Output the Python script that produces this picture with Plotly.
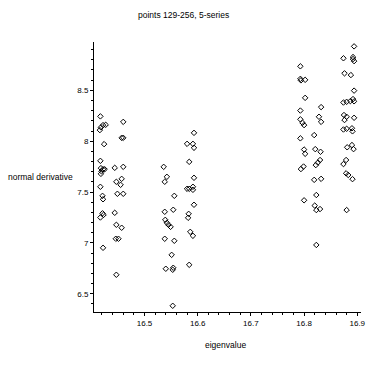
import plotly.graph_objects as go

# eigenvalue (x) and normal derivative (y)
eigenvalue = [
    # column near 16.42
    16.417, 16.422, 16.427, 16.418, 16.416, 16.424, 16.417, 16.418, 16.422, 16.425,
    16.419, 16.418, 16.417, 16.421, 16.422, 16.421, 16.423, 16.417, 16.422,
    # column near 16.45
    16.460, 16.457, 16.460, 16.444, 16.460, 16.447, 16.457, 16.455, 16.449, 16.460,
    16.444, 16.447, 16.457, 16.446, 16.451, 16.447,
    # column near 16.545
    16.536, 16.542, 16.538, 16.556, 16.538, 16.554, 16.539, 16.542, 16.545, 16.549,
    16.538, 16.556, 16.551, 16.540, 16.554, 16.553, 16.553,
    # column near 16.59
    16.593, 16.580, 16.591, 16.593, 16.584, 16.593, 16.580, 16.584, 16.591, 16.591,
    16.593, 16.583, 16.582, 16.586, 16.591, 16.584,
    # column near 16.80
    16.793, 16.793, 16.794, 16.802, 16.802, 16.793, 16.793, 16.797, 16.800, 16.793,
    16.800, 16.802, 16.794, 16.799, 16.800,
    # column near 16.825
    16.832, 16.828, 16.832, 16.819, 16.821, 16.831, 16.822, 16.826, 16.830, 16.819,
    16.832, 16.823, 16.820, 16.823, 16.830, 16.823,
    # column near 16.878
    16.874, 16.876, 16.874, 16.880, 16.875, 16.880, 16.876, 16.874, 16.880, 16.881,
    16.874, 16.879, 16.879, 16.883, 16.880,
    # column near 16.892
    16.894, 16.892, 16.892, 16.894, 16.888, 16.894, 16.887, 16.892, 16.894, 16.894,
    16.890, 16.891, 16.890, 16.893, 16.891,
]

normal_derivative = [
    8.244, 8.158, 8.161, 8.136, 8.109, 7.971, 7.807, 7.735, 7.724, 7.724,
    7.704, 7.679, 7.552, 7.463, 7.429, 7.291, 7.276, 7.250, 6.952,
    8.190, 8.033, 8.033, 7.738, 7.748, 7.601, 7.630, 7.571, 7.483, 7.483,
    7.296, 7.178, 7.149, 7.041, 7.041, 6.687,
    7.748, 7.650, 7.601, 7.463, 7.306, 7.326, 7.227, 7.198, 7.178, 7.158,
    7.041, 7.021, 6.883, 6.746, 6.756, 6.736, 6.382,
    8.082, 7.974, 7.974, 7.935, 7.797, 7.640, 7.532, 7.532, 7.552, 7.522,
    7.375, 7.286, 7.247, 7.109, 7.070, 6.785,
    8.736, 8.613, 8.598, 8.603, 8.426, 8.301, 8.215, 8.181, 8.158, 8.028,
    7.918, 7.876, 7.726, 7.751, 7.419,
    8.335, 8.240, 8.190, 8.060, 7.922, 7.896, 7.765, 7.790, 7.815, 7.620,
    7.630, 7.471, 7.367, 7.323, 7.333, 6.980,
    8.815, 8.667, 8.380, 8.387, 8.257, 8.240, 8.208, 8.115, 8.122, 7.940,
    7.775, 7.815, 7.684, 7.668, 7.323,
    8.932, 8.827, 8.807, 8.787, 8.650, 8.497, 8.394, 8.414, 8.392, 8.230,
    8.127, 8.097, 7.962, 7.922, 7.627,
]

x_ticks = [16.5, 16.6, 16.7, 16.8, 16.9]
x_tick_labels = ["16.5", "16.6", "16.7", "16.8", "16.9"]
y_ticks = [6.5, 7, 7.5, 8, 8.5]
y_tick_labels = ["6.5", "7", "7.5", "8", "8.5"]

title_text = "points 129-256, 5-series"
x_title = "eigenvalue"
y_title = "normal derivative"

FONT = "Liberation Sans, Arial, sans-serif"

fig = go.Figure()
fig.add_trace(go.Scatter(
    x=eigenvalue, y=normal_derivative, mode="markers",
    marker=dict(symbol="diamond-open", size=4.2, color="black",
                line=dict(width=1, color="black")),
    hoverinfo="x+y", showlegend=False,
))

fig.update_layout(
    width=371, height=371, autosize=False,
    margin=dict(l=94, r=5, t=42, b=59, pad=0),
    paper_bgcolor="white", plot_bgcolor="white",
    font=dict(family=FONT, size=8, color="black"),
    xaxis=dict(
        range=[16.405, 16.907], showgrid=False, zeroline=False,
        showline=True, linecolor="black", linewidth=1,
        ticks="outside", ticklen=3, tickwidth=1, tickcolor="black",
        tickvals=x_ticks, ticktext=x_tick_labels,
        tickfont=dict(family=FONT, size=8, color="black"),
        minor=dict(dtick=0.02, tick0=16.4, ticks="outside", ticklen=2,
                   tickcolor="black", showgrid=False),
    ),
    yaxis=dict(
        range=[6.321, 8.975], showgrid=False, zeroline=False,
        showline=True, linecolor="black", linewidth=1,
        ticks="outside", ticklen=3, tickwidth=1, tickcolor="black",
        tickvals=y_ticks, ticktext=y_tick_labels,
        tickfont=dict(family=FONT, size=8, color="black"),
        minor=dict(dtick=0.1, tick0=6.0, ticks="outside", ticklen=2,
                   tickcolor="black", showgrid=False),
    ),
    annotations=[
        dict(text=title_text, xref="paper", yref="paper", x=0.3346, y=1.099,
             xanchor="center", yanchor="middle", showarrow=False,
             font=dict(family=FONT, size=8.5, color="black")),
        dict(text=x_title, xref="paper", yref="paper", x=0.494, y=-0.124,
             xanchor="center", yanchor="middle", showarrow=False,
             font=dict(family=FONT, size=8.5, color="black")),
        dict(text=y_title, xref="paper", yref="paper", x=-0.331, y=0.4996,
             xanchor="left", yanchor="middle", showarrow=False,
             font=dict(family=FONT, size=8.5, color="black")),
    ],
)

fig.write_html(
    "out.html",
    config={"displayModeBar": False},
    post_script="document.body.style.margin='0';document.body.style.padding='0';",
)
